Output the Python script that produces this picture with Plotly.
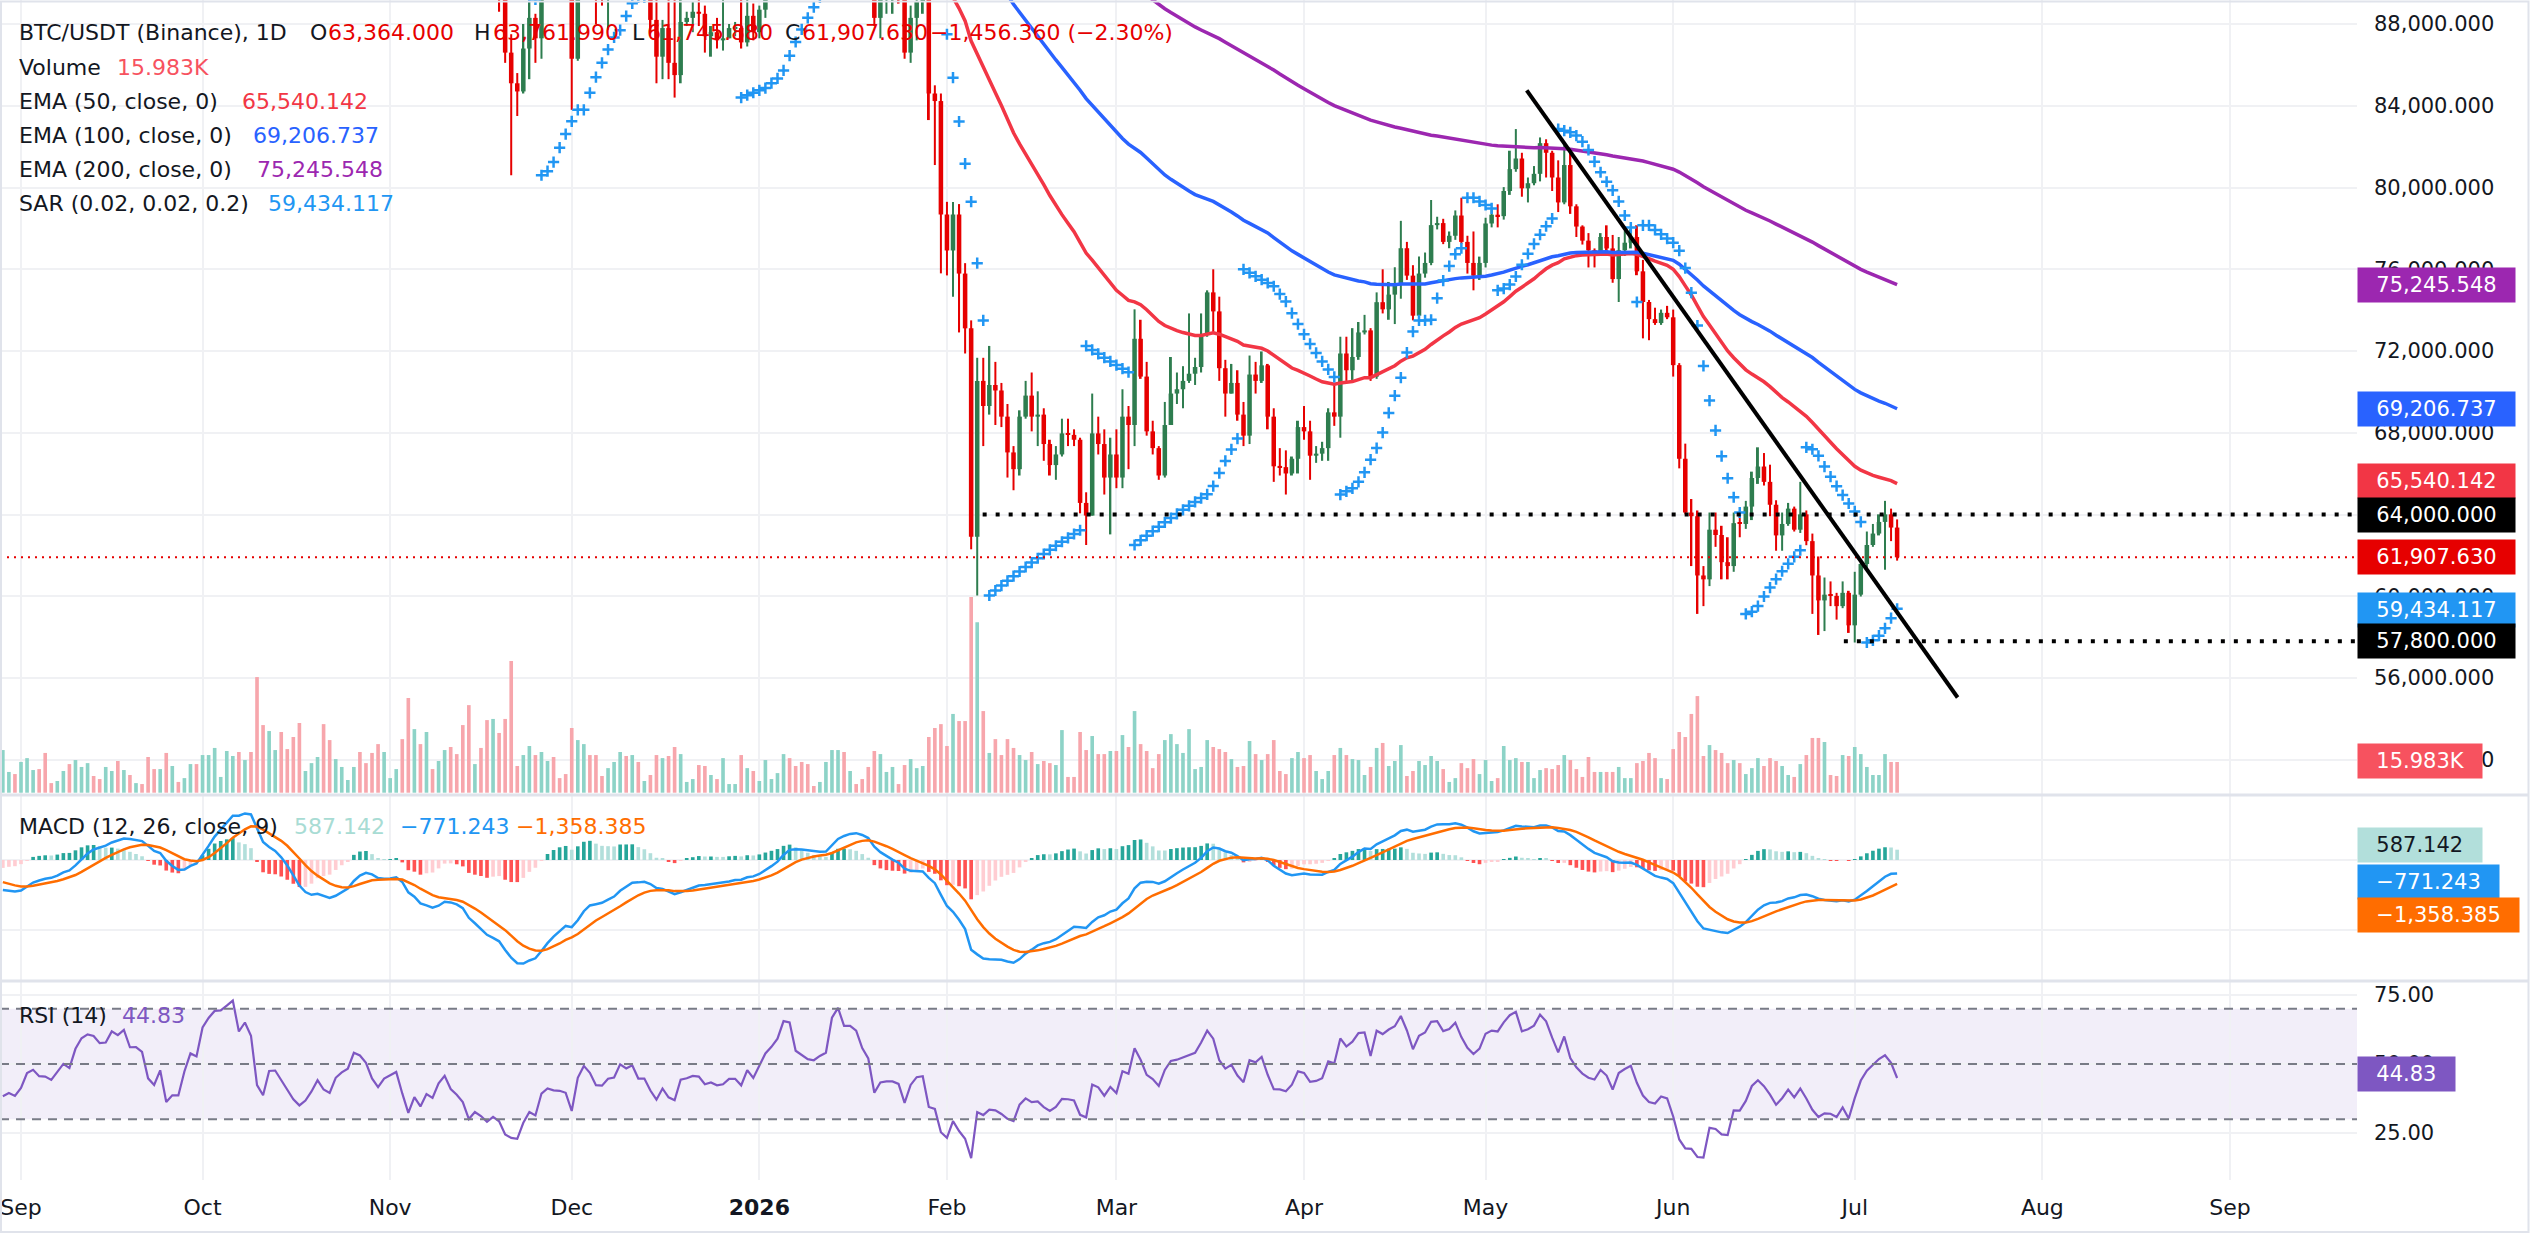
import numpy as np
import pandas as pd
import plotly.graph_objects as go
from plotly.subplots import make_subplots

# ---------------- data (BTC/USDT daily, Aug 29 2025 -> Jul 8 2026) ----------------
START_DATE = "2025-08-29"
FIRST_OPEN = 108200.0

CLOSES = [
    108380, 108810, 108250,
    109240, 111240, 111700, 110730, 110660, 110190, 111150, 112050, 111550, 113960,
    115500, 116100, 115950, 115270, 115350, 116790, 116470, 117140, 115690, 115710,
    115310, 112750, 111990, 113330, 109050, 109700, 109680, 112120, 114400, 114050,
    118650, 120640, 122270, 122390, 123480, 124720, 121450, 123300, 121700, 113200,
    110650, 115190, 115280, 113030, 110760, 108190, 106430, 107200, 108650, 110550,
    108400, 107600, 110070, 111000, 111640, 114560, 114100, 112900, 110050, 108300, 109600,
    110100, 110600, 106500, 101500, 103900, 101300, 103300, 102300, 104700, 106000,
    103000, 101600, 99700, 94400, 95500, 94200, 92200, 92900, 91500, 86600,
    85100, 84700, 86800, 88300, 87300, 90500, 91300, 90900, 90800, 90400,
    86300, 91300, 93500, 92100, 89400, 89300, 90400, 90600, 92700, 92000,
    92500, 90300, 90300, 88200, 86400, 87800, 86100, 85500, 88100, 88300,
    88600, 88500, 87400, 87600, 87200, 87300, 87800, 87800, 87100, 88400, 87600,
    88700, 89900, 90600, 91500, 93800, 93700, 91300, 90900, 90500, 90400,
    90800, 91100, 95300, 97000, 95500, 95500, 95100, 93600, 92600, 88300,
    89400, 89500, 89500, 89200, 86600, 88300, 89100, 89200, 84600, 84230,
    78680,
    76920, 78680, 75790, 73110, 62920, 70540, 69310, 70340, 70070, 68790,
    67040, 66220, 68790, 69820, 68790, 68890, 67450, 66420, 66940, 67970,
    67900, 67660, 64570, 63950, 67970, 67450, 65810, 66940,
    65810, 68790, 68380, 72600, 70750, 68070, 67250, 65910, 68380, 69920,
    70130, 70540, 70890, 71220, 72810, 74870, 73940, 71160, 69920, 70440,
    68890, 67860, 70850, 70540, 71300, 68790, 66360, 66320, 66010, 66730, 68280,
    68070, 66880, 66980, 67250, 69000, 68790, 71880, 71060, 71710, 72910,
    73010, 70750, 74390, 74040, 74760, 75280, 77030, 75690, 73730, 75790,
    76310, 78160, 78260, 77340, 77640, 78630, 77340, 76310, 75690, 76310,
    78240, 78670, 78600, 79830, 80900, 81420, 79960, 80210, 80670, 82170,
    81700, 80490, 79270, 81100, 79080, 78090, 77400, 76930, 76740, 77580,
    77020, 75520, 76930, 77300, 77580, 75900, 74400, 73560, 73370, 73870, 73650,
    71310, 66730, 64100, 63920, 61020, 60830, 63260, 63000, 61670, 61480,
    63580, 63540, 64390, 65790, 66350, 65600, 64480, 62980, 63540, 64290,
    63260, 64010, 62700, 61020, 59800, 60080, 60020, 59520, 60170, 58580,
    60080, 61580, 62510, 63070, 63640, 64010, 63364.0, 61907.63,
]

HIGHS = [
    112600, 108950, 109450,
    109900, 111800, 112600, 111800, 113400, 111000, 111300, 112900, 113300, 114300,
    115600, 116600, 116800, 116100, 116800, 117000, 117300, 117900, 117500, 116200,
    115900, 115500, 113300, 114000, 113500, 110300, 109800, 112300, 114500, 114800,
    118800, 121000, 123900, 122900, 125700, 126200, 125100, 124200, 123800, 122500,
    113400, 115800, 116000, 115400, 113600, 111800, 109200, 107500, 109400, 111700,
    114000, 109500, 111200, 112000, 111900, 115000, 116400, 116000, 113600, 111600, 111000,
    110600, 111200, 110700, 106600, 104500, 104200, 104100, 103500, 105000, 106700,
    107000, 105300, 104000, 99900, 96800, 96600, 96000, 93800, 92900, 93200,
    87500, 85600, 88000, 89200, 88500, 90700, 91900, 93000, 91200, 92000,
    90400, 92300, 94200, 94100, 92700, 90300, 91800, 92300, 94600, 94500,
    93600, 92700, 90700, 90600, 90000, 88200, 90300, 89500, 89400, 88600,
    89100, 90600, 88900, 87900, 88300, 89500, 88000, 88100, 90400, 89300, 89000,
    88900, 90900, 90700, 91800, 94800, 94400, 93700, 91500, 91900, 90800,
    91200, 92400, 96000, 97900, 97200, 95900, 95600, 95500, 93500, 92800,
    90400, 90300, 91100, 89800, 89600, 88900, 89400, 90600, 89300, 85000,
    84600,
    79300, 79290, 79190, 76300, 73500, 71670, 71670, 72250, 71470, 70440,
    69410, 67350, 69100, 70540, 70950, 70030, 69200, 67660, 67350, 68690,
    68690, 68170, 67760, 65090, 69920, 68790, 68170, 67760,
    68170, 70130, 69310, 74040, 73530, 71470, 68590, 67350, 69510, 71710,
    70950, 71260, 73840, 71670, 73840, 74970, 76000, 74660, 71570, 71370,
    71060, 69510, 71780, 71470, 71980, 71370, 69200, 67250, 67140, 66840, 68590,
    69310, 68590, 67350, 67560, 69200, 70400, 72700, 72700, 73120, 73420,
    73770, 73120, 74870, 76000, 75380, 76100, 78370, 77340, 76200, 76620,
    76820, 79390, 78570, 78470, 77850, 78880, 79500, 77640, 77850, 76620,
    78520, 78900, 79180, 80020, 81800, 82860, 81700, 80490, 81050, 82450,
    82360, 81800, 81330, 82080, 81700, 79180, 78150, 77770, 77020, 77770,
    78150, 77680, 77580, 77870, 77960, 78150, 76460, 74500, 74120, 74030, 74210,
    74030, 71410, 67470, 64760, 64200, 61480, 64100, 64100, 63450, 62890,
    64100, 64100, 64670, 66100, 67290, 67010, 66440, 64700, 64100, 64570,
    64390, 65600, 64200, 63070, 61950, 60920, 60730, 60170, 60730, 60270,
    61200, 61670, 63170, 63540, 64010, 64670, 64290, 63761.99,
]

LOWS = [
    107350, 107450, 108100,
    107250, 108400, 110500, 109300, 110000, 109900, 110000, 110700, 110900, 110900,
    113500, 114400, 115300, 114800, 114400, 114800, 114800, 116200, 115100, 115400,
    115100, 111900, 111600, 111100, 108600, 108600, 109000, 109200, 111600, 112600,
    113900, 118000, 119300, 121500, 122000, 123100, 120600, 121100, 119700, 102000,
    109600, 109700, 113900, 109900, 110100, 107400, 103500, 106300, 106100, 107400,
    107500, 106700, 107500, 109600, 110800, 111300, 113900, 112200, 109700, 106300, 108300,
    109400, 109500, 105300, 98900, 98900, 100300, 99300, 101500, 101300, 104300,
    102500, 100800, 98000, 94000, 94500, 93000, 91200, 89300, 88600, 86100,
    80600, 83500, 84600, 85300, 86100, 86300, 90100, 90200, 90300, 90300,
    83800, 86200, 91000, 91700, 88000, 88900, 87700, 89600, 89500, 91600,
    89300, 89500, 89800, 87600, 85100, 85300, 85300, 84400, 85100, 87900,
    87600, 87900, 86600, 86400, 86800, 86700, 87300, 87400, 86800, 86900, 87200,
    87300, 88300, 89300, 90300, 91300, 91900, 90700, 89300, 89600, 90100,
    90200, 90000, 90900, 94500, 94800, 94300, 94900, 93600, 91900, 87900,
    87300, 88500, 88500, 89000, 86300, 86100, 87200, 88500, 83300, 81100,
    75800,
    75700, 74660, 72910, 71880, 62300, 60040, 67350, 68890, 68380, 68280,
    65810, 65190, 65910, 68690, 68070, 67350, 66630, 65910, 65700, 66840,
    67350, 67350, 64060, 62510, 63950, 66940, 64980, 63030,
    65290, 65290, 66220, 67350, 70640, 67860, 66940, 65700, 65810, 68380,
    69410, 69200, 70440, 70340, 70950, 72700, 72910, 70540, 68790, 69920,
    68590, 67350, 67450, 69920, 70440, 68170, 65600, 65910, 64980, 65910, 66010,
    67660, 65700, 66530, 66630, 66630, 68340, 67760, 70540, 70540, 71570,
    72810, 70540, 70640, 73840, 73530, 73320, 74560, 75480, 73500, 73530,
    75590, 76200, 77950, 77230, 77030, 77440, 77230, 75790, 74970, 75480,
    76090, 78050, 78050, 78430, 79640, 80770, 79550, 79270, 80110, 80300,
    80490, 79830, 78800, 79180, 78710, 77580, 77210, 76090, 76090, 76650,
    76650, 75340, 74400, 76650, 77020, 75710, 72620, 72530, 73280, 73280, 73560,
    70750, 66260, 64010, 61480, 59140, 59520, 60500, 62420, 60830, 60830,
    61200, 62890, 63300, 63730, 65500, 65420, 63920, 62230, 62230, 63450,
    63170, 63100, 62500, 59140, 58110, 58300, 59520, 58860, 59420, 58210,
    57740, 59990, 61300, 62420, 62980, 61300, 62700, 61745.88,
]

VOLUMES_K = [
    22.2, 10.8, 9.7, 16.0, 18.0, 11.8, 12.3, 20.7, 5.0, 6.1,
    11.3, 14.9, 17.0, 13.4, 15.4, 8.7, 7.1, 13.4, 11.3, 16.5,
    11.8, 9.2, 5.0, 4.5, 18.6, 12.3, 12.3, 20.7, 13.9, 5.6,
    7.6, 14.9, 14.9, 19.6, 19.6, 23.3, 8.2, 21.7, 19.1, 21.2,
    17.0, 21.2, 60.2, 35.2, 32.1, 22.2, 31.6, 22.7, 29.0, 36.3,
    11.3, 15.4, 18.6, 35.7, 27.4, 17.5, 13.4, 6.6, 13.4, 21.2,
    15.4, 20.7, 25.3, 21.2, 7.6, 12.3, 27.9, 49.3, 33.1, 25.3,
    31.6, 12.3, 16.5, 22.2, 23.8, 20.1, 35.2, 45.6, 14.9, 23.3,
    37.8, 38.4, 31.1, 38.4, 68.5, 13.9, 19.6, 24.3, 19.6, 21.2,
    16.5, 18.6, 7.6, 9.7, 33.7, 27.4, 25.3, 19.6, 19.6, 8.7,
    12.8, 16.0, 21.2, 19.1, 19.6, 16.0, 6.1, 9.2, 19.6, 18.0,
    19.1, 23.8, 20.1, 5.6, 7.1, 14.4, 13.9, 9.2, 7.1, 18.0,
    4.5, 4.5, 19.6, 12.8, 11.3, 6.1, 17.0, 7.1, 10.2, 20.1,
    18.0, 13.9, 16.0, 14.9, 3.5, 5.6, 16.0, 22.2, 22.2, 21.2,
    11.3, 4.5, 7.1, 13.4, 21.7, 20.1, 10.8, 13.4, 4.5, 14.4,
    17.5, 12.8, 13.9, 29.0, 33.7, 35.7, 24.3, 41.0, 37.3, 37.3,
    101.9, 88.8, 42.5, 20.7, 27.9, 19.6, 27.9, 23.3, 19.6, 17.0,
    21.2, 14.9, 16.5, 15.4, 14.4, 32.6, 8.2, 8.2, 31.6, 22.2,
    29.5, 20.1, 20.1, 21.7, 21.7, 30.0, 23.8, 42.5, 25.3, 21.7,
    12.8, 20.1, 27.4, 30.5, 25.3, 20.7, 33.1, 12.3, 13.4, 27.4,
    23.8, 22.7, 21.2, 17.5, 13.4, 13.9, 26.9, 20.1, 17.0, 20.1,
    27.4,
    11.3, 9.7, 18.0, 21.2, 18.0, 19.6, 11.3, 7.1, 11.3, 19.6,
    23.3, 19.6, 17.5, 17.0, 9.2, 13.4, 23.3, 25.9, 13.9, 16.5,
    24.8, 8.7, 11.3, 16.5, 14.4, 19.1, 16.5, 12.3, 5.6, 7.6,
    15.4, 12.8, 17.5, 9.7, 17.0, 6.1, 7.6, 24.3, 17.0, 18.0,
    16.0, 16.0, 7.6, 11.8, 12.8, 12.3, 14.4, 19.6, 17.0, 12.3,
    8.2, 18.6, 10.8, 10.8, 10.8, 10.8, 13.4, 7.6, 7.6, 15.4,
    16.5, 20.7, 18.0, 7.6, 7.1, 22.7, 31.6, 29.0, 41.0, 50.3,
    19.1, 24.8, 22.2, 20.7, 15.4, 17.0, 15.4, 9.7, 12.8, 18.0,
    13.9, 18.0, 16.5, 13.9, 9.2, 8.2, 14.9, 19.6, 28.5, 28.5,
    26.4, 9.2, 8.7, 19.6, 19.1, 23.8, 20.1, 13.4, 9.2, 9.2,
    20.1, 16.0,
    15.983,
]

# indicator settings / starting states
EMA_LENGTHS = [50, 100, 200]
EMA_SEEDS = {50: 113000.0, 100: 110500.0}
EMA200_LAST = 75245.548
MACD_SEEDS = (111300.0, 112900.0, -1150.0)   # ema12, ema26, signal
RSI_SEEDS = (700.0, 1150.0)                   # avg gain, avg loss
SAR_START = (113600.0, 107350.0, 0.06, False)  # sar, extreme point, af, uptrend?

# drawings (x in days from Sep 1 2025)
TREND_START = (248.8, 84750.0)
TREND_END = (320.0, 55050.0)
LEVEL_64K = (158.9, 64000.0)
LEVEL_57K = (301.2, 57800.0)

# legend texts
LEG_OHLC = ["63,364.000", "63,761.990", "61,745.880", "61,907.630"]
LEG_CHANGE = "\u22121,456.360 (\u22122.30%)"
LEG_VOL = "15.983K"
LEG_EMA = ["65,540.142", "69,206.737", "75,245.548"]
LEG_SAR = "59,434.117"
LEG_MACD = ["587.142", "\u2212771.243", "\u22121,358.385"]
LEG_RSI = "44.83"
MONTH_STARTS = ["2025-09-01", "2025-10-01", "2025-11-01", "2025-12-01", "2026-01-01", "2026-02-01",
                "2026-03-01", "2026-04-01", "2026-05-01", "2026-06-01", "2026-07-01", "2026-08-01",
                "2026-09-01"]
MONTHS = ["Sep", "Oct", "Nov", "Dec", "<b>2026</b>", "Feb", "Mar", "Apr", "May", "Jun", "Jul", "Aug", "Sep"]
PRICE_TICKS = list(range(52000, 88001, 4000))

# ---------------- computations ----------------
n = len(CLOSES)
assert len(HIGHS) == n and len(LOWS) == n and len(VOLUMES_K) == n
BASE = pd.Timestamp("2025-09-01")
dates = pd.date_range(START_DATE, periods=n, freq="D")
xd = np.array([(d - BASE).days for d in dates], float)   # day offsets
c = np.array(CLOSES, float)
o = np.concatenate([[FIRST_OPEN], c[:-1]])
h = np.maximum(np.array(HIGHS, float), np.maximum(o, c))
l = np.minimum(np.array(LOWS, float), np.minimum(o, c))
up = c >= o


def ema(vals, length, seed):
    a = 2.0 / (length + 1)
    out = np.empty(len(vals))
    e = seed
    for i, v in enumerate(vals):
        e = e + a * (v - e)
        out[i] = e
    return out


e0 = ema(c, 200, 0.0)[-1]
w = ema(c, 200, 1.0)[-1] - e0
seed200 = float(np.clip((EMA200_LAST - e0) / w, 85000, 125000))
emas = {50: ema(c, 50, EMA_SEEDS[50]), 100: ema(c, 100, EMA_SEEDS[100]), 200: ema(c, 200, seed200)}

e12 = ema(c, 12, MACD_SEEDS[0])
e26 = ema(c, 26, MACD_SEEDS[1])
macd = e12 - e26
signal = ema(macd, 9, MACD_SEEDS[2])
hist = macd - signal
hcol = []
for i, v in enumerate(hist):
    prev = hist[i - 1] if i > 0 else v
    if v >= 0:
        hcol.append("#26A69A" if v > prev else "#B2DFDB")
    else:
        hcol.append("#FF5252" if v < prev else "#FFCDD2")

ag, al = RSI_SEEDS
rsi = np.empty(n)
prevc = FIRST_OPEN
for i in range(n):
    d = c[i] - prevc
    ag = (ag * 13 + max(d, 0)) / 14
    al = (al * 13 + max(-d, 0)) / 14
    rsi[i] = 100 - 100 / (1 + ag / al)
    prevc = c[i]

sar_v = np.empty(n)
sar, ep, af, upt = SAR_START
for i in range(n):
    if i > 0:
        sar = sar + af * (ep - sar)
        if upt:
            sar = min(sar, l[i - 1], l[i - 2] if i > 1 else l[i - 1])
            if l[i] < sar:
                upt, sar, ep, af = False, ep, l[i], 0.02
            elif h[i] > ep:
                ep, af = h[i], min(af + 0.02, 0.2)
        else:
            sar = max(sar, h[i - 1], h[i - 2] if i > 1 else h[i - 1])
            if h[i] > sar:
                upt, sar, ep, af = True, ep, h[i], 0.02
            elif l[i] < ep:
                ep, af = l[i], min(af + 0.02, 0.2)
    sar_v[i] = sar

# ---------------- geometry ----------------
PW, PH = 2357.0, 1180.0


def px(x):
    return x / PW


def py(y):
    return 1 - y / PH


X_RANGE = [-3.47, 385.99]
P_RANGE = [50279.8, 89174.2]
V_RANGE = [-1.2, 412.7]
M_RANGE = [-6914.0, 3714.0]
R_RANGE = [7.97, 80.07]
month_vals = [(pd.Timestamp(m) - BASE).days for m in MONTH_STARTS]

UPC, DNC = "#2E7D4F", "#E60000"
VUP, VDN = "#8DD3C7", "#F7A6AC"
FONT = "DejaVu Sans"
TXT = "#131722"
GRID = "#F0F1F4"

fig = make_subplots(rows=3, cols=1, shared_xaxes=True, vertical_spacing=0,
                    row_heights=[795, 186, 199], specs=[[{"secondary_y": True}], [{}], [{}]])

fig.add_trace(go.Bar(x=xd, y=VOLUMES_K, width=0.6,
                     marker=dict(color=[VUP if u else VDN for u in up], line=dict(width=0))),
              row=1, col=1, secondary_y=False)
fig.add_trace(go.Bar(x=xd, y=h - l, base=l, width=0.33,
                     marker=dict(color=[UPC if u else DNC for u in up], line=dict(width=0))),
              row=1, col=1, secondary_y=True)
body_h = np.maximum(np.abs(c - o), 60)
fig.add_trace(go.Bar(x=xd, y=body_h, base=np.minimum(o, c), width=0.75,
                     marker=dict(color=[UPC if u else DNC for u in up], line=dict(width=0))),
              row=1, col=1, secondary_y=True)
for length, col in zip(EMA_LENGTHS, ["#F23645", "#2962FF", "#9C27B0"]):
    fig.add_trace(go.Scatter(x=xd, y=emas[length], mode="lines", line=dict(color=col, width=3.5)),
                  row=1, col=1, secondary_y=True)
fig.add_trace(go.Scatter(x=xd, y=sar_v, mode="markers",
                         marker=dict(symbol="cross-thin", size=8, line=dict(color="#2196F3", width=2.5))),
              row=1, col=1, secondary_y=True)
fig.add_trace(go.Bar(x=xd, y=hist, width=0.6, marker=dict(color=hcol, line=dict(width=0))), row=2, col=1)
fig.add_trace(go.Scatter(x=xd, y=macd, mode="lines", line=dict(color="#2196F3", width=2.5)), row=2, col=1)
fig.add_trace(go.Scatter(x=xd, y=signal, mode="lines", line=dict(color="#FF6D00", width=2.5)), row=2, col=1)
fig.add_trace(go.Scatter(x=xd, y=rsi, mode="lines", line=dict(color="#7E57C2", width=2.2)), row=3, col=1)

fig.update_layout(
    width=2530, height=1253, margin=dict(l=0, r=173, t=0, b=73, autoexpand=False),
    paper_bgcolor="white", plot_bgcolor="white", showlegend=False, barmode="overlay",
    font=dict(family=FONT, size=22, color=TXT), hovermode=False,
)
for ax in ["xaxis", "xaxis2", "xaxis3"]:
    fig.layout[ax].update(type="linear", domain=[0, 1], range=X_RANGE, autorange=False, tickmode="array",
                          tickvals=month_vals, ticktext=MONTHS,
                          showgrid=True, gridcolor=GRID, gridwidth=2, zeroline=False,
                          showline=False, ticks="", showticklabels=(ax == "xaxis3"), automargin=False,
                          tickfont=dict(family=FONT, size=22, color=TXT), ticklabelstandoff=12)
fig.layout.yaxis.update(range=V_RANGE, autorange=False, visible=False, showgrid=False)
common_y = dict(side="right", showgrid=True, gridcolor=GRID, gridwidth=2, zeroline=False, ticks="",
                ticklabelstandoff=16, automargin=False, autorange=False,
                tickfont=dict(family=FONT, size=21, color=TXT))
# the 64,000 tick text is entirely hidden by the 64,000 level box in the reference
price_text = ["" if v == LEVEL_64K[1] else f"{v:,.3f}" for v in PRICE_TICKS]
fig.layout.yaxis2.update(range=P_RANGE, tickvals=PRICE_TICKS, anchor="x", ticktext=price_text, **common_y)
fig.layout.yaxis3.update(range=M_RANGE, tickvals=[0, -4000], ticktext=["", ""], **common_y)
fig.layout.yaxis4.update(range=R_RANGE, tickvals=[25, 50, 75],
                         ticktext=["25.00", "50.00", "75.00"], **common_y)

shapes = []
shapes.append(dict(type="rect", xref="paper", yref="y4", x0=0, x1=1, y0=30, y1=70,
                   fillcolor="rgba(126,87,194,0.10)", line=dict(width=0), layer="below"))
for lv in (70, 50, 30):
    shapes.append(dict(type="line", xref="paper", yref="y4", x0=0, x1=1, y0=lv, y1=lv,
                       line=dict(color="#787B86", width=2, dash="9px,7px")))
shapes.append(dict(type="line", xref="paper", yref="y2", x0=0, x1=1, y0=c[-1], y1=c[-1],
                   line=dict(color="#E60000", width=2, dash="2px,5px")))
for start, lvl in (LEVEL_64K, LEVEL_57K):
    shapes.append(dict(type="line", xref="x", yref="y2", x0=start, x1=X_RANGE[1], y0=lvl, y1=lvl,
                       line=dict(color="#000000", width=4, dash="4px,9px")))
shapes.append(dict(type="line", xref="x", yref="y2", x0=TREND_START[0], y0=TREND_START[1],
                   x1=TREND_END[0], y1=TREND_END[1], line=dict(color="#000000", width=4)))
for yy in (795, 981):
    shapes.append(dict(type="line", xref="paper", yref="paper", x0=0, x1=2529 / PW, y0=py(yy), y1=py(yy),
                       line=dict(color="#E0E3EB", width=3)))
shapes.append(dict(type="rect", xref="paper", yref="paper", x0=px(1), x1=px(2528.5), y0=py(1232),
                   y1=py(1.5), line=dict(color="#E0E3EB", width=2)))
fig.update_layout(shapes=shapes)

ann = []


def txt(x, y, s, color=TXT, size=22):
    ann.append(dict(x=px(x), y=py(y), xref="paper", yref="paper", xanchor="left", yanchor="middle",
                    text=s, showarrow=False, font=dict(family=FONT, size=size, color=color)))


RED_TXT = "#E60000"
txt(17, 33, "BTC/USDT (Binance), 1D")
txt(308, 33, "O")
txt(326, 33, LEG_OHLC[0], RED_TXT)
txt(472, 33, "H")
txt(491, 33, LEG_OHLC[1], RED_TXT)
txt(630, 33, "L")
txt(645, 33, LEG_OHLC[2], RED_TXT)
txt(783, 33, "C")
txt(800, 33, LEG_OHLC[3], RED_TXT)
txt(928, 33, LEG_CHANGE, RED_TXT)
txt(17, 68, "Volume")
txt(115, 68, LEG_VOL, "#F7525F")
txt(17, 102, "EMA (50, close, 0)")
txt(240, 102, LEG_EMA[0], "#F23645")
txt(17, 135, "EMA (100, close, 0)")
txt(251, 135, LEG_EMA[1], "#2962FF")
txt(17, 169, "EMA (200, close, 0)")
txt(255, 169, LEG_EMA[2], "#9C27B0")
txt(17, 203, "SAR (0.02, 0.02, 0.2)")
txt(266, 203, LEG_SAR, "#2196F3")
txt(17, 826, "MACD (12, 26, close, 9)")
txt(292, 826, LEG_MACD[0], "#A8DCD4")
txt(398, 826, LEG_MACD[1], "#2196F3")
txt(514, 826, LEG_MACD[2], "#FF6D00")
txt(17, 1015, "RSI (14)")
txt(120, 1015, LEG_RSI, "#7E57C2")


def label(y, yref, s, bg, fg="white", yshift=0):
    ann.append(dict(x=1, xref="paper", xanchor="left", y=y, yref=yref, yanchor="middle",
                    text="\u2007" + s + "\u2007", showarrow=False, bgcolor=bg, borderpad=5,
                    yshift=yshift, font=dict(family=FONT, size=21, color=fg)))


label(emas[200][-1], "y2", LEG_EMA[2], "#9C27B0")
label(emas[100][-1], "y2", LEG_EMA[1], "#2962FF")
label(emas[50][-1], "y2", LEG_EMA[0], "#F23645", yshift=3)
label(LEVEL_64K[1], "y2", "64,000.000", "#000000")
label(c[-1], "y2", LEG_OHLC[3], "#E60000")
label(sar_v[-1], "y2", LEG_SAR, "#2196F3", yshift=-1)
label(LEVEL_57K[1], "y2", "57,800.000", "#000000")
label(VOLUMES_K[-1], "y", LEG_VOL, "#F7525F", yshift=1)
label(hist[-1], "y3", LEG_MACD[0], "#B2DFDB", fg=TXT, yshift=5)
label(macd[-1], "y3", LEG_MACD[1], "#2196F3", yshift=-9)
label(signal[-1], "y3", LEG_MACD[2], "#FF6D00", yshift=-31)
label(rsi[-1], "y4", LEG_RSI, "#7E57C2", yshift=4)

fig.update_layout(annotations=ann)
fig.write_html("out.html")
